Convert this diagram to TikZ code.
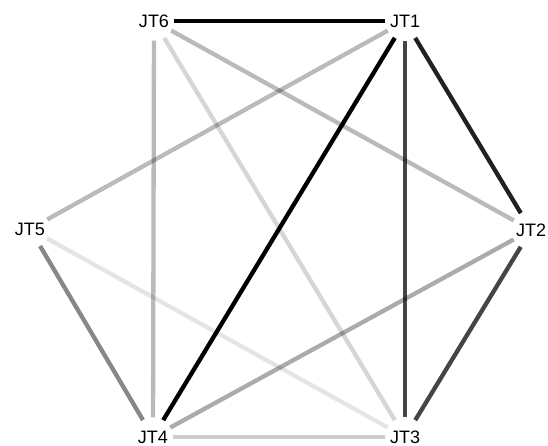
\documentclass[tikz,border=0pt]{standalone}
\usepackage{fontspec}
\setmainfont{Liberation Sans}
\begin{document}
\begin{tikzpicture}[x=1pt,y=-1pt,
  jt/.style={circle,minimum size=39pt,inner sep=0pt,font=\fontsize{18}{20}\selectfont},
  link/.style={line width=4.3pt,draw=black,draw opacity=#1}]
\useasboundingbox (0,0) rectangle (548,445);

\node[jt] (JT1) at (405,21) {JT1};
\node[jt] (JT2) at (531,230) {JT2};
\node[jt] (JT3) at (405,437) {JT3};
\node[jt] (JT4) at (153,437) {JT4};
\node[jt] (JT5) at (30,229) {JT5};
\node[jt] (JT6) at (154,21) {JT6};

\draw[link=0.1] (JT5) -- (JT3);
\draw[link=0.16] (JT6) -- (JT3);
\draw[link=0.2] (JT4) -- (JT3);
\draw[link=0.27] (JT6) -- (JT4);
\draw[link=0.27] (JT6) -- (JT2);
\draw[link=0.27] (JT1) -- (JT5);
\draw[link=0.33] (JT4) -- (JT2);
\draw[link=0.47] (JT4) -- (JT5);
\draw[link=0.73] (JT1) -- (JT3);
\draw[link=0.73] (JT2) -- (JT3);
\draw[link=0.87] (JT1) -- (JT2);
\draw[link=1] (JT1) -- (JT4);
\draw[link=1] (JT6) -- (JT1);
\end{tikzpicture}
\end{document}
